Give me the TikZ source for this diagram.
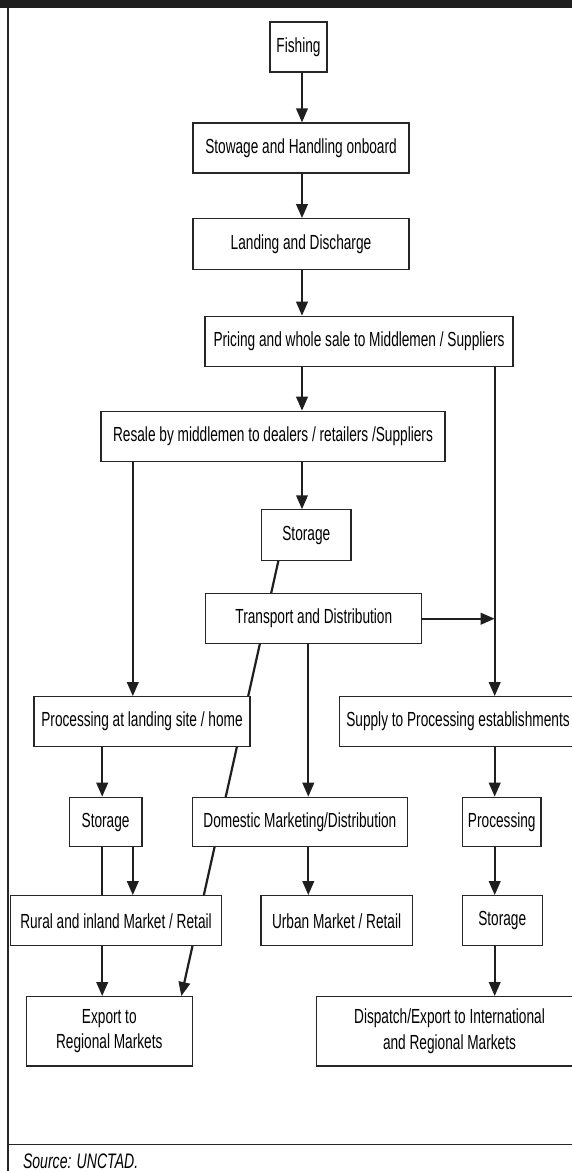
\documentclass[tikz,border=0pt]{standalone}
\usepackage{fontspec}
\setmainfont{Liberation Sans}[FakeStretch=0.67]
\usetikzlibrary{arrows.meta,backgrounds}
\begin{document}
\begin{tikzpicture}[x=1pt,y=-1pt,
  box/.style={draw=black!85,fill=white,line width=1.2pt,inner sep=0pt,align=center,
    font=\fontsize{20.4}{25.5}\selectfont},
  arr/.style={line width=2.2pt,draw=black!88,-{Triangle[length=14pt,width=11.5pt]}},
  frame/.style={line width=1.1pt,draw=black!85}]
\useasboundingbox (0,0) rectangle (572,1171);
\fill[black!88] (0,0) rectangle (572,7.6);
\draw[frame] (8,7.6) -- (8,1171);
\draw[frame] (8,1144.3) -- (572,1144.3);
\node[anchor=west,font=\fontsize{21}{22}\selectfont\itshape] (src) at (19.5,1161.7) {Source: UNCTAD.};
% column coordinates
\coordinate (cM) at (302,0);
\coordinate (cR) at (494.7,0);
\coordinate (cL) at (132.8,0);
\coordinate (cS) at (102.2,0);
\coordinate (cD) at (308.3,0);
\coordinate (dA) at (278.4,0);
\coordinate (dB) at (181.3,0);
% nodes
\node[box,minimum width=57,minimum height=50] (fishing) at (298.5,47) {Fishing};
\node[box,minimum width=216,minimum height=50] (stow) at (301,148) {Stowage and Handling onboard};
\node[box,minimum width=216,minimum height=50.6] (land) at (301,244) {Landing and Discharge};
\node[box,minimum width=308,minimum height=50.4] (price) at (359,341.5) {Pricing and whole sale to Middlemen / Suppliers};
\node[box,minimum width=344,minimum height=50.4] (resale) at (273,436.5) {Resale by middlemen to dealers / retailers /Suppliers};
\node[box,minimum width=89.4,minimum height=50.3] (sto1) at (306.3,535) {Storage};
\node[box,minimum width=216,minimum height=50] (trans) at (313.8,618.7) {Transport and Distribution};
\node[box,minimum width=216,minimum height=50] (procl) at (142,721.7) {Processing at landing site / home};
\node[box,minimum width=237.4,minimum height=50] (supply) at (458,721.7) {Supply to Processing establishments};
\node[box,minimum width=72.6,minimum height=49.4] (sto2) at (105.6,822) {Storage};
\node[box,minimum width=215.2,minimum height=49.4] (dom) at (299.9,822) {Domestic Marketing/Distribution};
\node[box,minimum width=78.4,minimum height=49.4] (proc) at (501.8,822) {Processing};
\node[box,minimum width=211,minimum height=50] (rural) at (116,920.7) {Rural and inland Market / Retail};
\node[box,minimum width=151.4,minimum height=50] (urban) at (336.6,920.7) {Urban Market / Retail};
\node[box,minimum width=79.8,minimum height=50] (sto3) at (502.2,920.7) {\raisebox{5pt}{Storage}};
\node[box,minimum width=166,minimum height=69.3] (export) at (109.3,1031.3) {\raisebox{3pt}{\begin{tabular}{@{}c@{}}Export to\\[-0.4pt]Regional Markets\end{tabular}}};
\node[box,minimum width=265.6,minimum height=69.3] (dispatch) at (449.5,1031.3) {\raisebox{1.5pt}{\begin{tabular}{@{}c@{}}Dispatch/Export to International\\[0.2pt]and Regional Markets\end{tabular}}};
% connectors
\begin{pgfonlayer}{background}
\draw[arr] (fishing.south -| cM) -- (stow.north -| cM);
\draw[arr] (stow.south -| cM) -- (land.north -| cM);
\draw[arr] (land.south -| cM) -- (price.north -| cM);
\draw[arr] (price.south -| cM) -- (resale.north -| cM);
\draw[arr] (price.south -| cR) -- (supply.north -| cR);
\draw[arr] (resale.south -| cM) -- (sto1.north -| cM);
\draw[arr] (resale.south -| cL) -- (procl.north -| cL);
\draw[arr] (trans.east) -- (trans.east -| cR);
\draw[arr] (trans.south -| cD) -- (dom.north -| cD);
\draw[arr] (sto1.south -| dA) -- (export.north -| dB);
\draw[arr] (procl.south -| cS) -- (sto2.north -| cS);
\draw[arr] (sto2.south -| cL) -- (rural.north -| cL);
\draw[arr] (sto2.south -| cS) -- (export.north -| cS);
\draw[arr] (dom.south -| cD) -- (urban.north -| cD);
\draw[arr] (supply.south -| cR) -- (proc.north -| cR);
\draw[arr] (proc.south -| cR) -- (sto3.north -| cR);
\draw[arr] (sto3.south -| cR) -- (dispatch.north -| cR);
\end{pgfonlayer}
\end{tikzpicture}
\end{document}
